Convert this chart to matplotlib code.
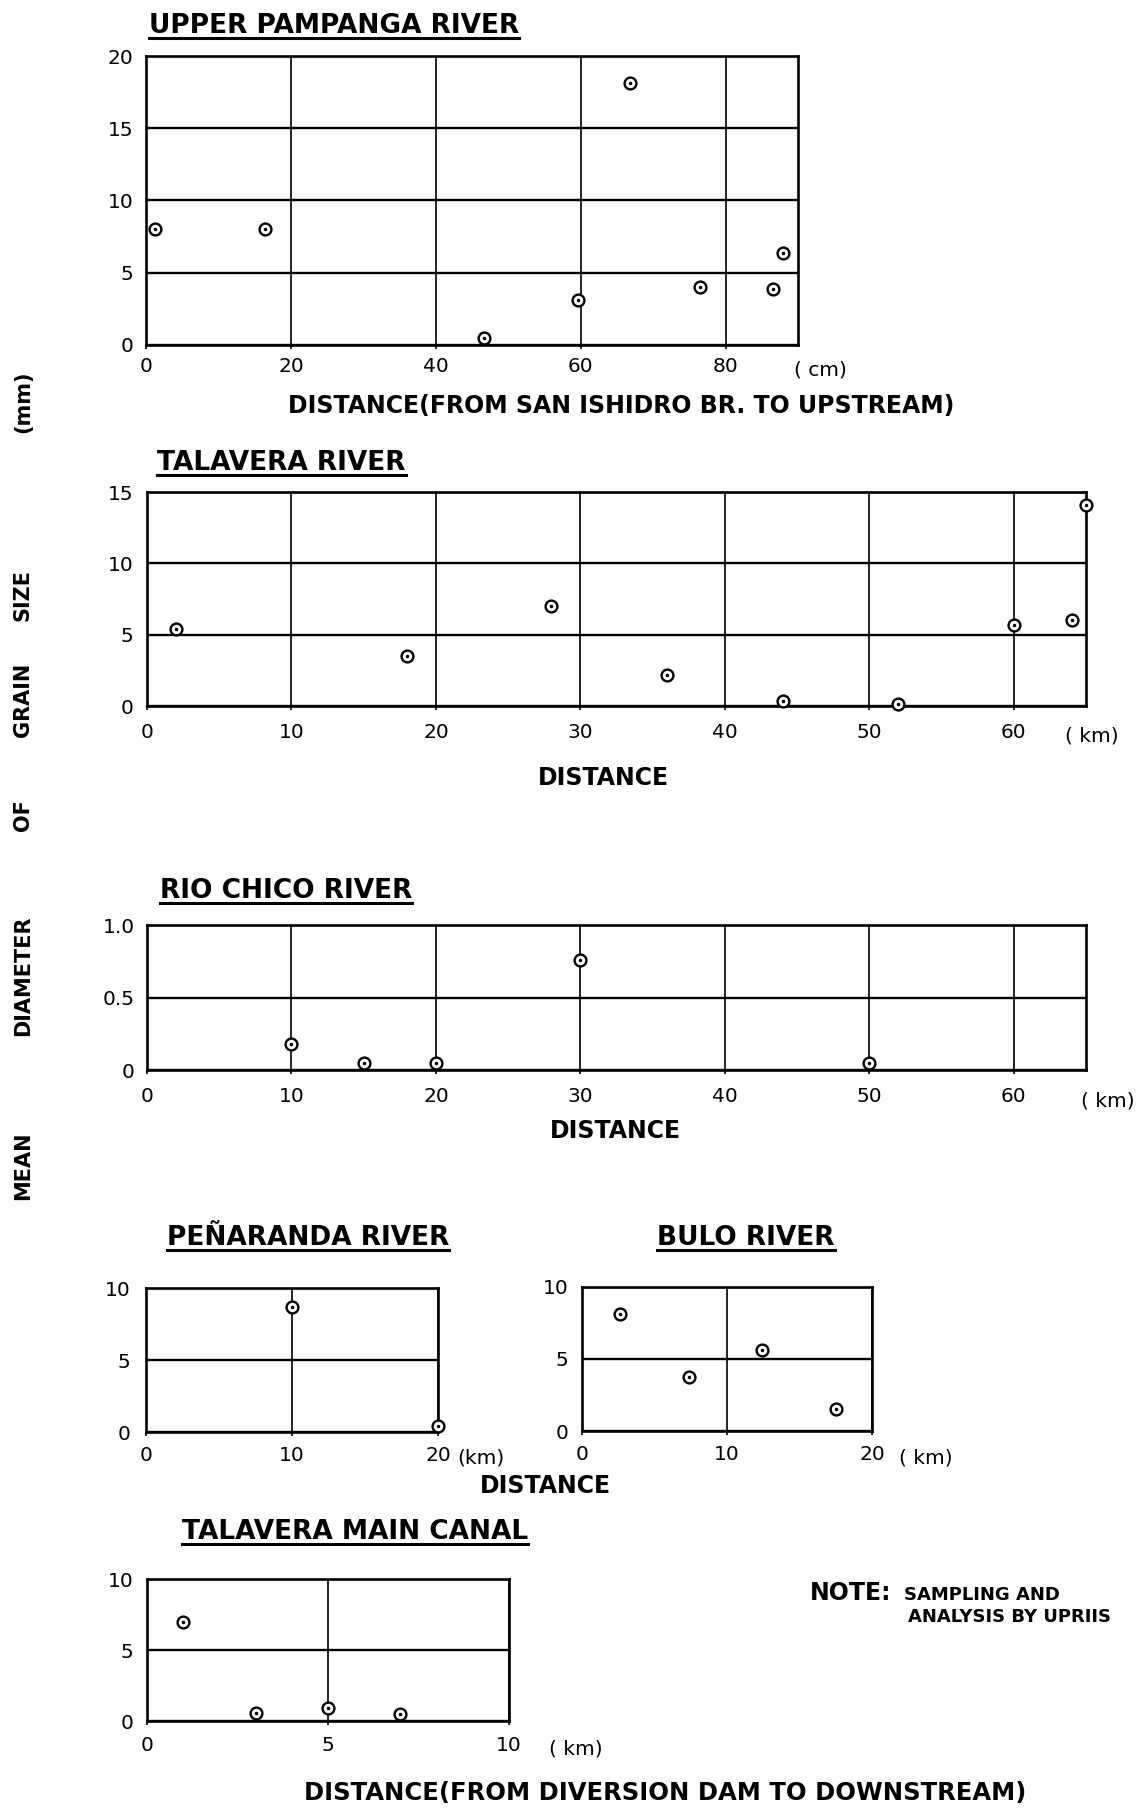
import matplotlib.pyplot as plt
from matplotlib.lines import Line2D

plt.rcParams['font.family'] = ['DejaVu Sans']

W, H = 1141, 1810

# Upper Pampanga River (distance in cm, grain size in mm)
pampanga_x = [1.2, 16.4, 46.7, 59.6, 66.8, 76.5, 86.5, 87.9]
pampanga_y = [8.0, 8.0, 0.5, 3.1, 18.1, 4.0, 3.85, 6.4]
pampanga_xticks = [0, 20, 40, 60, 80]
pampanga_yticks = [0, 5, 10, 15, 20]

# Talavera River
talavera_x = [2, 18, 28, 36, 44, 52, 60, 64, 65]
talavera_y = [5.4, 3.5, 7.0, 2.2, 0.35, 0.12, 5.65, 6.05, 14.1]
talavera_xticks = [0, 10, 20, 30, 40, 50, 60]
talavera_yticks = [0, 5, 10, 15]

# Rio Chico River
riochico_x = [10, 15, 20, 30, 50]
riochico_y = [0.18, 0.05, 0.045, 0.76, 0.05]
riochico_xticks = [0, 10, 20, 30, 40, 50, 60]
riochico_yticks = [0, 0.5, 1.0]
riochico_ylabels = ['0', '0.5', '1.0']

# Penaranda River
penaranda_x = [10, 20]
penaranda_y = [8.7, 0.4]

# Bulo River
bulo_x = [2.6, 7.4, 12.4, 17.5]
bulo_y = [8.1, 3.75, 5.6, 1.5]

short_xticks = [0, 10, 20]
short_yticks = [0, 5, 10]

# Talavera Main Canal
canal_x = [1, 3, 5, 7]
canal_y = [7.0, 0.55, 0.95, 0.5]
canal_xticks = [0, 5, 10]
canal_yticks = [0, 5, 10]


fig = plt.figure(figsize=(W / 100, H / 100), dpi=100)
fig.patch.set_facecolor('white')


def px_axes(left, top, right, bottom):
    return fig.add_axes([left / W, 1 - bottom / H, (right - left) / W, (bottom - top) / H])


def ftext(x, y, s, **kw):
    return fig.text(x / W, 1 - y / H, s, **kw)


def panel(box, x, y, xticks, yticks, xlim, ylim, xpad, ypad, ylabels=None):
    ax = px_axes(*box)
    ax.set_xlim(*xlim)
    ax.set_ylim(*ylim)
    ax.set_xticks(xticks)
    ax.set_yticks(yticks)
    ax.set_xticklabels([str(t) for t in xticks])
    ax.set_yticklabels(ylabels if ylabels else [str(t) for t in yticks])
    ax.tick_params(axis='x', length=3, width=1.2, direction='out', pad=xpad, labelsize=14.5)
    ax.tick_params(axis='y', length=0, pad=ypad, labelsize=14.5)
    ax.xaxis.grid(True, color='black', lw=1.2)
    ax.yaxis.grid(True, color='black', lw=1.7)
    ax.set_axisbelow(True)
    for s in ax.spines.values():
        s.set_linewidth(1.9)
    ax.plot(x, y, 'o', mfc='white', mec='black', ms=8.5, mew=1.7, zorder=5, clip_on=False)
    ax.plot(x, y, '.', color='black', ms=3, zorder=6, clip_on=False)
    return ax


panel((146, 56, 798, 345), pampanga_x, pampanga_y, pampanga_xticks, pampanga_yticks,
      (0, 90), (0, 20), 6, 9)
panel((147, 492, 1086, 706), talavera_x, talavera_y, talavera_xticks, talavera_yticks,
      (0, 65), (0, 15), 9, 10)
panel((147, 925, 1086, 1070), riochico_x, riochico_y, riochico_xticks, riochico_yticks,
      (0, 65), (0, 1.0), 9, 9, riochico_ylabels)
panel((146, 1288, 438, 1432), penaranda_x, penaranda_y, short_xticks, short_yticks,
      (0, 20), (0, 10), 7, 11)
panel((582, 1287, 872, 1431), bulo_x, bulo_y, short_xticks, short_yticks,
      (0, 20), (0, 10), 7, 10)
panel((147, 1579, 509, 1721), canal_x, canal_y, canal_xticks, canal_yticks,
      (0, 10), (0, 10), 8, 10)

# panel titles (underlined below)
title_kw = dict(fontsize=19, fontweight='bold', ha='left', va='baseline')
titles = [
    ftext(149, 33, 'UPPER PAMPANGA RIVER', **title_kw),
    ftext(157, 470, 'TALAVERA RIVER', **title_kw),
    ftext(160, 898, 'RIO CHICO RIVER', **title_kw),
    ftext(167, 1245, 'PEÑARANDA RIVER', **title_kw),
    ftext(657, 1245, 'BULO RIVER', **title_kw),
    ftext(182, 1539, 'TALAVERA MAIN CANAL', **title_kw),
]

# distance labels
lab_kw = dict(fontsize=17, fontweight='bold', ha='center', va='baseline')
ftext(621, 413, 'DISTANCE(FROM SAN ISHIDRO BR. TO UPSTREAM)', **lab_kw)
ftext(603, 785, 'DISTANCE', **lab_kw)
ftext(615, 1138, 'DISTANCE', **lab_kw)
ftext(545, 1493, 'DISTANCE', **lab_kw)
ftext(665, 1800, 'DISTANCE(FROM DIVERSION DAM TO DOWNSTREAM)', fontsize=17.5,
      fontweight='bold', ha='center', va='baseline')

# units
unit_kw = dict(fontsize=14.5, ha='left', va='center')
ftext(794, 370, '( cm)', **unit_kw)
ftext(1065, 736, '( km)', **unit_kw)
ftext(1081, 1101, '( km)', **unit_kw)
ftext(457, 1458, '(km)', **unit_kw)
ftext(899, 1458, '( km)', **unit_kw)
ftext(549, 1749, '( km)', **unit_kw)

# common y label, spread along the left margin
ylab_words = ['(mm)', 'SIZE', 'GRAIN', 'OF', 'DIAMETER', 'MEAN']
ylab_pos = [402, 595, 700, 815, 976, 1166]
for w, yy in zip(ylab_words, ylab_pos):
    ftext(23, yy, w, fontsize=15, fontweight='bold', rotation=90, ha='center', va='center')

# note
ftext(810, 1600, 'NOTE:', fontsize=17, fontweight='bold', ha='left', va='baseline')
ftext(904, 1600, 'SAMPLING AND', fontsize=13, fontweight='bold', ha='left', va='baseline')
ftext(908, 1622, 'ANALYSIS BY UPRIIS', fontsize=13, fontweight='bold', ha='left', va='baseline')

# underline the titles
fig.canvas.draw()
r = fig.canvas.get_renderer()
for t in titles:
    bb = t.get_window_extent(r)
    yl = bb.y0 + 1
    fig.add_artist(Line2D([bb.x0 / W, bb.x1 / W], [yl / H, yl / H],
                          transform=fig.transFigure, color='black', lw=2.2))

fig.savefig('out.png', dpi=100, facecolor='white')
